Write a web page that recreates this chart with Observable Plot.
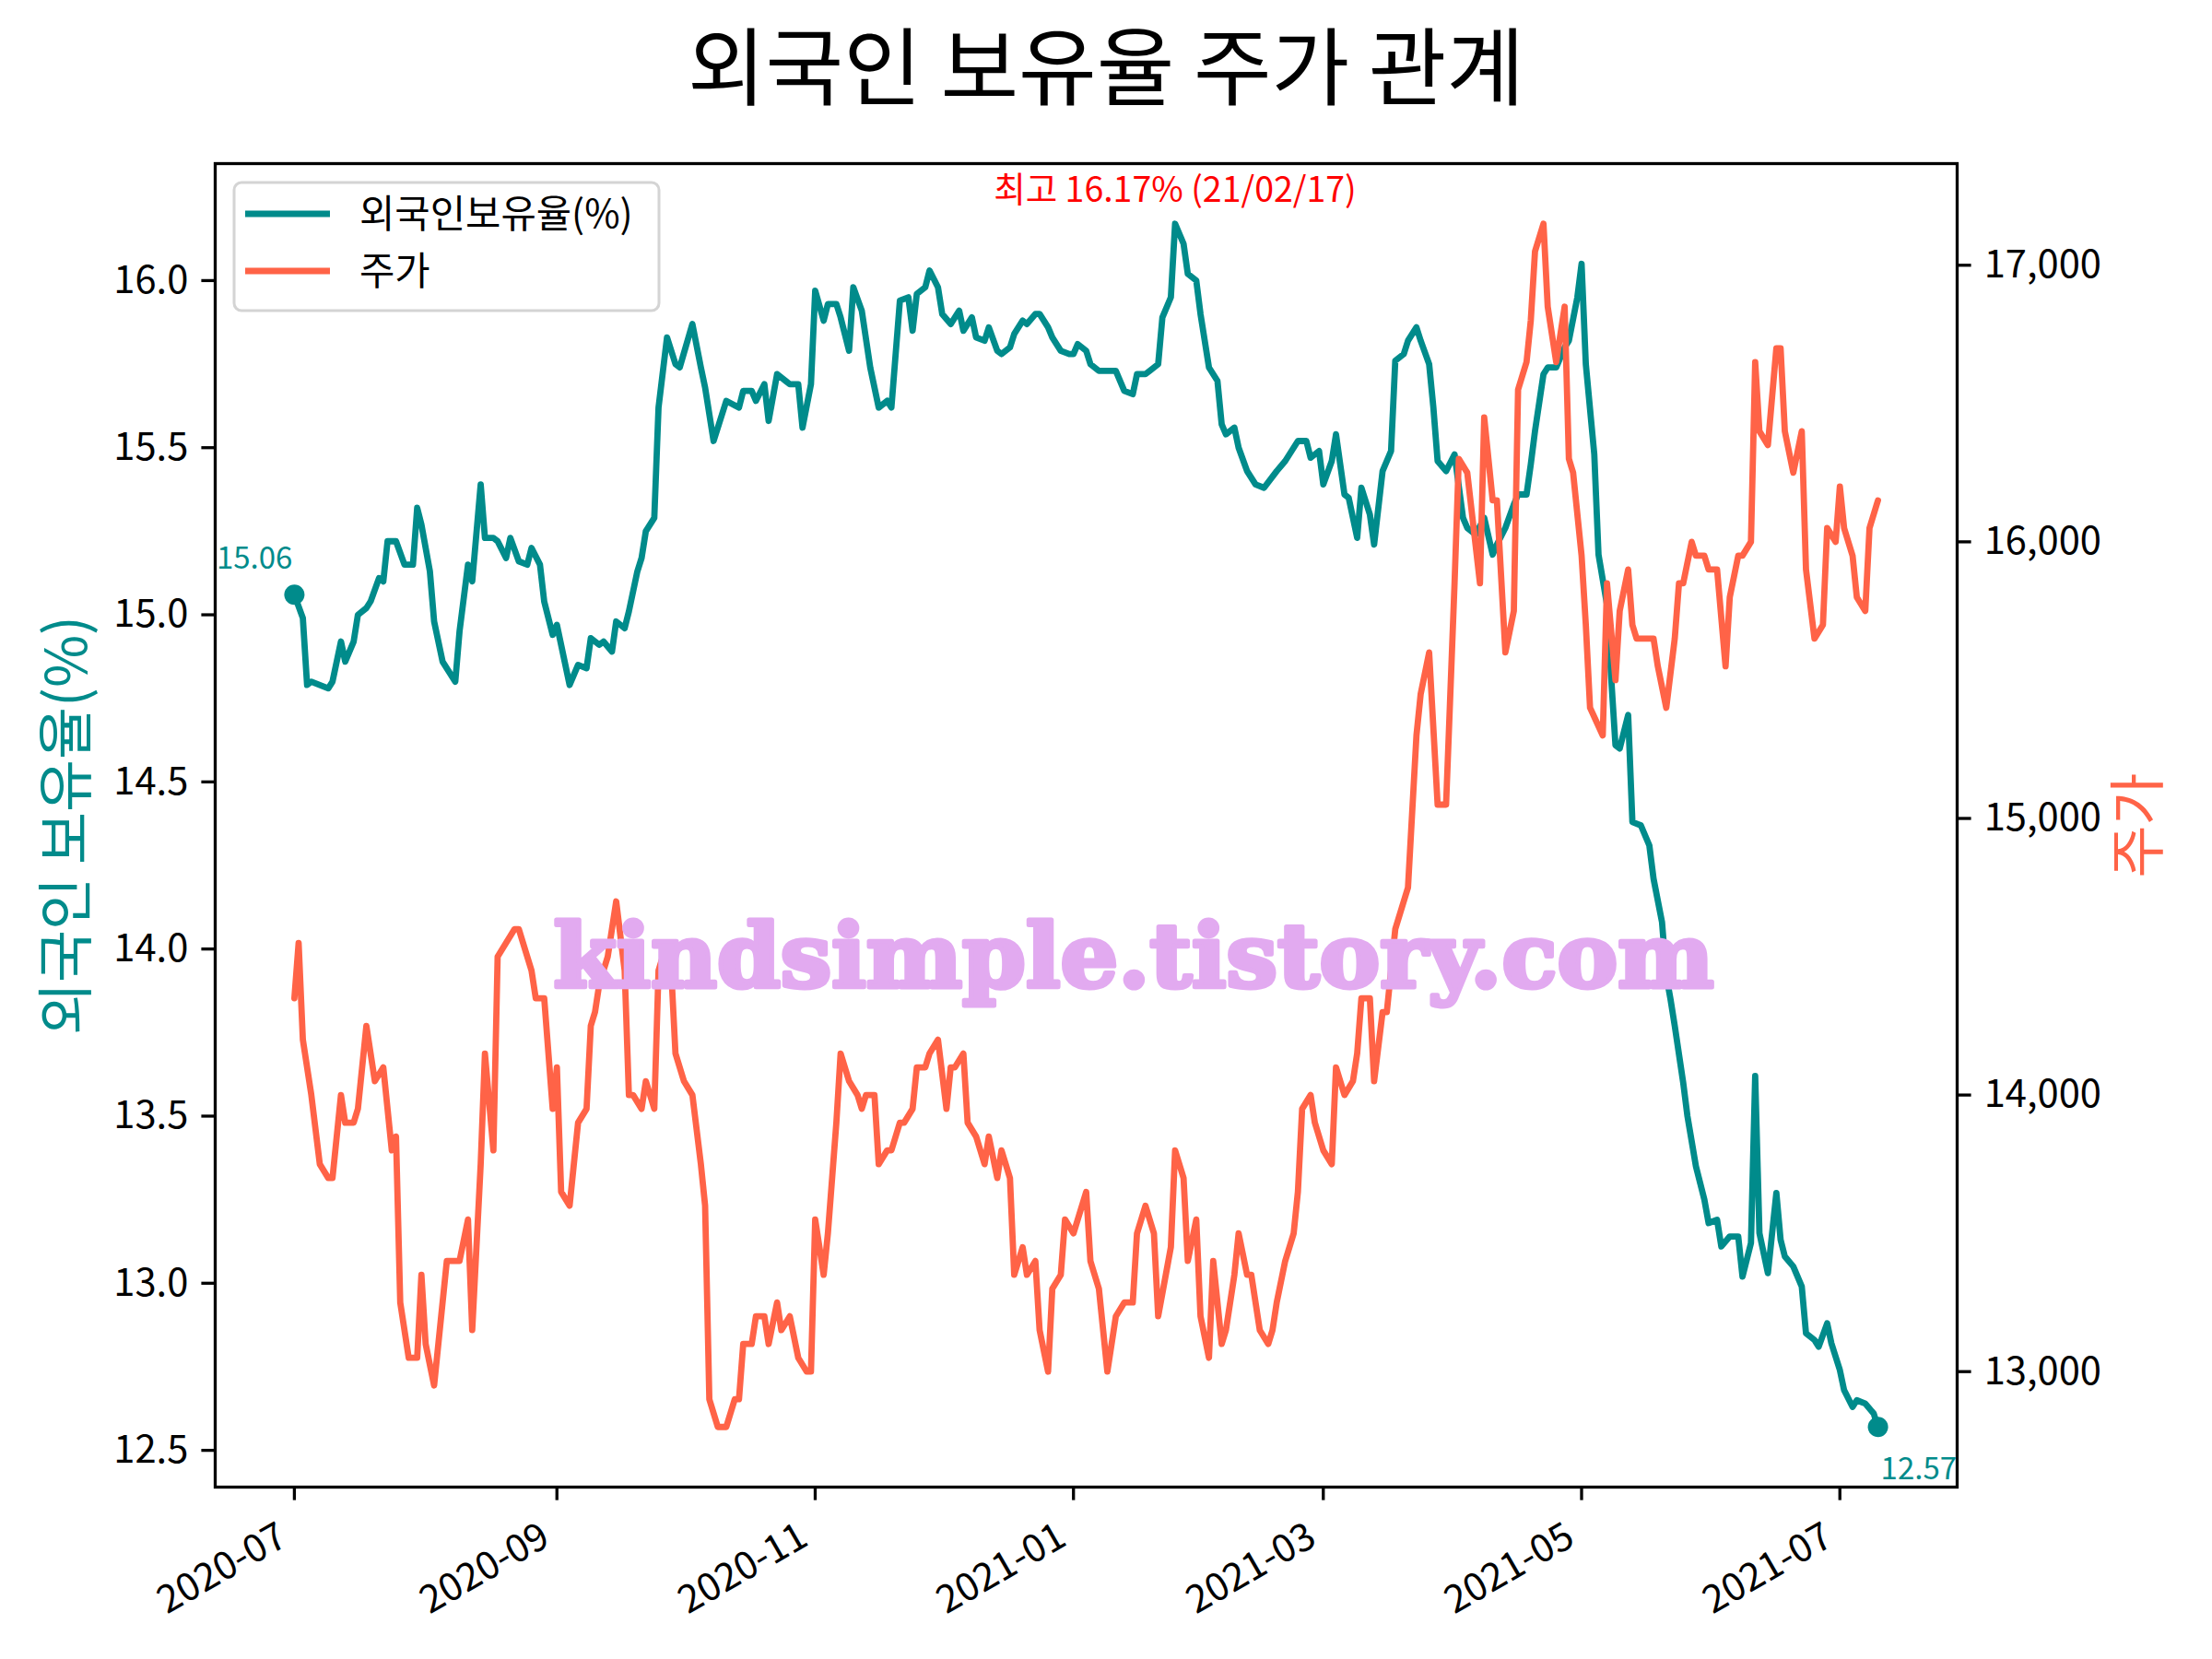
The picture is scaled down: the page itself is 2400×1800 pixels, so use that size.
<!DOCTYPE html>
<html>
<head>
<meta charset="utf-8">
<script src="https://cdn.jsdelivr.net/npm/d3@7"></script>
<script src="https://cdn.jsdelivr.net/npm/@observablehq/plot@0.6"></script>
<style>
  html, body { margin: 0; padding: 0; background: #fff; }
  #fig { position: relative; width: 2400px; height: 1800px; background: #fff; overflow: hidden; }
  #title { position: absolute; left: 0; top: 0; width: 2400px; height: 150px; line-height: normal;
           text-align: center; font-family: 'Noto Sans CJK KR', 'Noto Sans', sans-serif; font-size: 92px; color: #000; }
  #plots { position: absolute; left: 0; top: 150px; width: 2400px; height: 1650px; }
  #plots svg { position: absolute; left: 0; top: 0; }
  #overlay { position: absolute; left: 0; top: 0; }
</style>
</head>
<body>
<div id="fig">
  <div id="title">외국인 보유율 주가 관계</div>
  <div id="plots"></div>
  <svg id="overlay" width="2400" height="1800"></svg>
</div>
<script>
// ---------- data ----------
const ownDates = [
  "2020-07-01","2020-07-03","2020-07-04","2020-07-05","2020-07-09","2020-07-10","2020-07-12","2020-07-13","2020-07-15","2020-07-16","2020-07-18","2020-07-19","2020-07-21","2020-07-22","2020-07-23","2020-07-25","2020-07-27","2020-07-29","2020-07-30","2020-07-31",
  "2020-08-02","2020-08-03","2020-08-05","2020-08-06","2020-08-08","2020-08-09","2020-08-11","2020-08-12","2020-08-14","2020-08-15","2020-08-17","2020-08-18","2020-08-20","2020-08-21","2020-08-23","2020-08-25","2020-08-26","2020-08-28","2020-08-29","2020-08-31",
  "2020-09-01","2020-09-03","2020-09-04","2020-09-06","2020-09-08","2020-09-09","2020-09-11","2020-09-12","2020-09-14","2020-09-15","2020-09-17","2020-09-18","2020-09-20","2020-09-21","2020-09-22","2020-09-24","2020-09-25","2020-09-27","2020-09-29","2020-09-30",
  "2020-10-03","2020-10-05","2020-10-06","2020-10-08","2020-10-10","2020-10-11","2020-10-14","2020-10-15","2020-10-17","2020-10-18","2020-10-20","2020-10-21","2020-10-23","2020-10-25","2020-10-26","2020-10-28","2020-10-29","2020-10-31",
  "2020-11-01","2020-11-03","2020-11-04","2020-11-06","2020-11-07","2020-11-09","2020-11-10","2020-11-12","2020-11-14","2020-11-16","2020-11-18","2020-11-19","2020-11-21","2020-11-23","2020-11-24","2020-11-25","2020-11-27","2020-11-28","2020-11-30",
  "2020-12-01","2020-12-03","2020-12-05","2020-12-06","2020-12-08","2020-12-09","2020-12-11","2020-12-12","2020-12-14","2020-12-15","2020-12-17","2020-12-18","2020-12-20","2020-12-21","2020-12-23","2020-12-24","2020-12-26","2020-12-27","2020-12-29","2020-12-31",
  "2021-01-01","2021-01-02","2021-01-04","2021-01-05","2021-01-07","2021-01-11","2021-01-13","2021-01-15","2021-01-16","2021-01-18","2021-01-19","2021-01-21","2021-01-22","2021-01-24","2021-01-25","2021-01-27","2021-01-28","2021-01-30","2021-01-31",
  "2021-02-02","2021-02-04","2021-02-05","2021-02-06","2021-02-08","2021-02-09","2021-02-11","2021-02-13","2021-02-15","2021-02-18","2021-02-20","2021-02-22","2021-02-23","2021-02-25","2021-02-26","2021-02-28",
  "2021-03-01","2021-03-03","2021-03-04","2021-03-06","2021-03-07","2021-03-09","2021-03-10","2021-03-12","2021-03-13","2021-03-15","2021-03-17","2021-03-18","2021-03-20","2021-03-21","2021-03-23","2021-03-24","2021-03-26","2021-03-27","2021-03-28","2021-03-30",
  "2021-04-01","2021-04-03","2021-04-04","2021-04-06","2021-04-08","2021-04-10","2021-04-11","2021-04-13","2021-04-15","2021-04-16","2021-04-18","2021-04-19","2021-04-20","2021-04-22","2021-04-23","2021-04-25","2021-04-27","2021-04-28","2021-04-30",
  "2021-05-01","2021-05-02","2021-05-04","2021-05-05","2021-05-07","2021-05-08","2021-05-09","2021-05-10","2021-05-12","2021-05-13","2021-05-15","2021-05-17","2021-05-18","2021-05-20","2021-05-21","2021-05-22","2021-05-23","2021-05-25","2021-05-26","2021-05-28","2021-05-30","2021-05-31",
  "2021-06-02","2021-06-03","2021-06-05","2021-06-07","2021-06-08","2021-06-10","2021-06-11","2021-06-12","2021-06-14","2021-06-16","2021-06-17","2021-06-18","2021-06-20","2021-06-22","2021-06-23","2021-06-25","2021-06-26","2021-06-28","2021-06-29",
  "2021-07-01","2021-07-02","2021-07-04","2021-07-05","2021-07-07","2021-07-09","2021-07-10"
];
const ownValues = [
  15.06,14.99,14.79,14.80,14.78,14.80,14.92,14.86,14.92,15.00,15.02,15.04,15.11,15.10,15.22,15.22,15.15,15.15,15.32,15.27,
  15.13,14.98,14.86,14.84,14.80,14.95,15.15,15.10,15.39,15.23,15.23,15.22,15.17,15.23,15.16,15.15,15.20,15.15,15.04,14.94,
  14.97,14.85,14.79,14.85,14.84,14.93,14.91,14.92,14.89,14.98,14.96,15.01,15.13,15.17,15.25,15.29,15.62,15.83,15.75,15.74,
  15.87,15.74,15.68,15.52,15.60,15.64,15.62,15.67,15.67,15.64,15.69,15.58,15.72,15.70,15.69,15.69,15.56,15.69,
  15.97,15.88,15.93,15.93,15.89,15.79,15.98,15.91,15.74,15.62,15.64,15.62,15.94,15.95,15.85,15.96,15.98,16.03,15.98,
  15.90,15.87,15.91,15.85,15.89,15.83,15.82,15.86,15.79,15.78,15.80,15.84,15.88,15.87,15.90,15.90,15.86,15.83,15.79,15.78,
  15.78,15.81,15.79,15.75,15.73,15.73,15.67,15.66,15.72,15.72,15.73,15.75,15.89,15.95,16.17,16.11,16.02,16.00,15.90,
  15.74,15.70,15.57,15.54,15.56,15.50,15.43,15.39,15.38,15.43,15.46,15.50,15.52,15.52,15.47,15.49,
  15.39,15.46,15.54,15.36,15.35,15.23,15.38,15.30,15.21,15.43,15.49,15.76,15.78,15.82,15.86,15.82,15.75,15.62,15.46,15.43,
  15.48,15.29,15.26,15.24,15.29,15.18,15.21,15.26,15.33,15.36,15.36,15.45,15.55,15.72,15.74,15.74,15.80,15.82,15.95,
  16.05,15.75,15.48,15.18,15.03,14.81,14.61,14.60,14.70,14.38,14.37,14.31,14.21,14.08,13.92,13.85,13.77,13.60,13.50,13.35,13.25,13.18,
  13.19,13.11,13.14,13.14,13.02,13.12,13.62,13.15,13.03,13.27,13.13,13.08,13.05,12.99,12.85,12.83,12.81,12.88,12.82,
  12.74,12.68,12.63,12.65,12.64,12.61,12.57
];
const priceDates = [
  "2020-07-01","2020-07-02","2020-07-03","2020-07-05","2020-07-07","2020-07-09","2020-07-10","2020-07-12","2020-07-13","2020-07-15","2020-07-16","2020-07-18","2020-07-19","2020-07-20","2020-07-22","2020-07-24","2020-07-25","2020-07-26","2020-07-28","2020-07-30","2020-07-31",
  "2020-08-01","2020-08-03","2020-08-05","2020-08-06","2020-08-09","2020-08-11","2020-08-12","2020-08-14","2020-08-15","2020-08-17","2020-08-18","2020-08-20","2020-08-22","2020-08-23","2020-08-25","2020-08-26","2020-08-27","2020-08-29","2020-08-31",
  "2020-09-01","2020-09-02","2020-09-04","2020-09-06","2020-09-08","2020-09-09","2020-09-10","2020-09-11","2020-09-13","2020-09-15","2020-09-17","2020-09-18","2020-09-19","2020-09-21","2020-09-22","2020-09-24","2020-09-25","2020-09-26","2020-09-28","2020-09-29",
  "2020-10-01","2020-10-03","2020-10-05","2020-10-06","2020-10-07","2020-10-09","2020-10-11","2020-10-13","2020-10-14","2020-10-15","2020-10-17","2020-10-18","2020-10-20","2020-10-21","2020-10-23","2020-10-24","2020-10-26","2020-10-28","2020-10-30","2020-10-31",
  "2020-11-01","2020-11-03","2020-11-04","2020-11-06","2020-11-07","2020-11-09","2020-11-11","2020-11-12","2020-11-13","2020-11-15","2020-11-16","2020-11-18","2020-11-19","2020-11-21","2020-11-22","2020-11-24","2020-11-25","2020-11-27","2020-11-28","2020-11-30",
  "2020-12-02","2020-12-03","2020-12-04","2020-12-06","2020-12-07","2020-12-09","2020-12-11","2020-12-12","2020-12-14","2020-12-15","2020-12-17","2020-12-18","2020-12-20","2020-12-21","2020-12-23","2020-12-24","2020-12-26","2020-12-27","2020-12-29","2020-12-30",
  "2021-01-01","2021-01-02","2021-01-04","2021-01-05","2021-01-07","2021-01-09","2021-01-10","2021-01-11","2021-01-13","2021-01-15","2021-01-16","2021-01-18","2021-01-20","2021-01-21","2021-01-24","2021-01-25","2021-01-27","2021-01-28","2021-01-30","2021-01-31",
  "2021-02-02","2021-02-03","2021-02-05","2021-02-06","2021-02-08","2021-02-09","2021-02-11","2021-02-12","2021-02-14","2021-02-16","2021-02-17","2021-02-18","2021-02-20","2021-02-22","2021-02-23","2021-02-24","2021-02-26","2021-02-27",
  "2021-03-01","2021-03-03","2021-03-04","2021-03-06","2021-03-08","2021-03-09","2021-03-10","2021-03-12","2021-03-13","2021-03-15","2021-03-16","2021-03-18","2021-03-19","2021-03-21","2021-03-23","2021-03-24","2021-03-26","2021-03-28","2021-03-30",
  "2021-04-01","2021-04-02","2021-04-04","2021-04-07","2021-04-08","2021-04-10","2021-04-11","2021-04-13","2021-04-15","2021-04-16","2021-04-18","2021-04-19","2021-04-20","2021-04-22","2021-04-23","2021-04-25","2021-04-27","2021-04-28","2021-04-29",
  "2021-05-01","2021-05-02","2021-05-03","2021-05-06","2021-05-07","2021-05-09","2021-05-10","2021-05-12","2021-05-13","2021-05-14","2021-05-18","2021-05-19","2021-05-21","2021-05-23","2021-05-24","2021-05-25","2021-05-27","2021-05-28","2021-05-30","2021-05-31",
  "2021-06-02","2021-06-04","2021-06-05","2021-06-07","2021-06-08","2021-06-10","2021-06-11","2021-06-12","2021-06-14","2021-06-16","2021-06-17","2021-06-18","2021-06-20","2021-06-22","2021-06-23","2021-06-25","2021-06-27","2021-06-28","2021-06-30",
  "2021-07-01","2021-07-02","2021-07-04","2021-07-05","2021-07-07","2021-07-08","2021-07-10"
];
const priceValues = [
  14350,14550,14200,14000,13750,13700,13700,14000,13900,13900,13950,14250,14150,14050,14100,13800,13850,13250,13050,13050,13350,
  13100,12950,13250,13400,13400,13550,13150,13750,14150,13800,14500,14550,14600,14600,14500,14450,14350,14350,13950,
  14100,13650,13600,13900,13950,14250,14300,14400,14500,14700,14450,14000,14000,13950,14050,13950,14450,14500,14450,14150,
  14050,14000,13750,13600,12900,12800,12800,12900,12900,13100,13100,13200,13200,13100,13250,13150,13200,13050,13000,13000,
  13550,13350,13500,13900,14150,14050,14000,13950,14000,14000,13750,13800,13800,13900,13900,13950,14100,14100,14150,14200,
  13950,14100,14100,14150,13900,13850,13750,13850,13700,13800,13700,13350,13450,13350,13400,13150,13000,13300,13350,13550,
  13500,13550,13650,13400,13300,13000,13100,13200,13250,13250,13500,13600,13500,13200,13450,13800,13700,13400,13550,13200,
  13050,13400,13100,13150,13350,13500,13350,13350,13150,13100,13150,13250,13400,13500,13650,13950,14000,13900,
  13800,13750,14100,14000,14050,14150,14350,14350,14050,14300,14300,14600,14650,14750,15300,15450,15600,15050,15050,
  15850,16300,16250,15850,16450,16150,16150,15600,15750,16550,16650,16800,17050,17150,16850,16650,16850,16300,16250,
  15950,15700,15400,15300,15850,15500,15750,15900,15700,15650,15650,15550,15400,15650,15850,15850,16000,15950,15950,15900,
  15900,15550,15800,15950,15950,16000,16650,16400,16350,16700,16700,16400,16250,16400,15900,15650,15700,16050,16000,
  16200,16050,15950,15800,15750,16050,16150
];
const xTickDates = ["2020-07-01","2020-09-01","2020-11-01","2021-01-01","2021-03-01","2021-05-01","2021-07-01"];
const leftTicks = [12.5, 13.0, 13.5, 14.0, 14.5, 15.0, 15.5, 16.0];
const rightTicks = [13000, 14000, 15000, 16000, 17000];
const seriesNames = ["외국인보유율(%)", "주가"];
const axisLabels = ["외국인 보유율(%)", "주가"];
const peakLabelDate = "21/02/17";
const watermark = "kindsimple.tistory.com";

// ---------- build ----------
const teal = "#008b8b", tomato = "#ff6347";
const FONT = "'Noto Sans CJK KR', 'Noto Sans', sans-serif";
const own = ownDates.map((d, i) => ({date: new Date(d), value: ownValues[i]}));
const price = priceDates.map((d, i) => ({date: new Date(d), value: priceValues[i]}));

const allDates = own.concat(price).map(d => +d.date);
const t0 = d3.min(allDates), t1 = d3.max(allDates);
const tp = (t1 - t0) * 0.05;
const xDomain = [new Date(t0 - tp), new Date(t1 + tp)];
const [oMin, oMax] = d3.extent(ownValues), op = (oMax - oMin) * 0.05;
const [pMin, pMax] = d3.extent(priceValues), pp = (pMax - pMin) * 0.05;
const xTicks = xTickDates.map(d => new Date(d));

const first = own[0], last = own[own.length - 1];
const peak = own[d3.maxIndex(own, d => d.value)];

const LW = 6.8;
const common = {
  width: 2400, height: 1650,
  marginTop: 27, marginRight: 277, marginBottom: 187, marginLeft: 233,
  style: {fontFamily: FONT, fontSize: "41.7px", background: "transparent", color: "#000", overflow: "visible"}
};

const plotLeft = Plot.plot({
  ...common,
  x: {type: "utc", domain: xDomain},
  y: {domain: [oMin - op, oMax + op]},
  marks: [
    Plot.axisX({ticks: xTicks, tickSize: 14.6, strokeWidth: 3.3, tickFormat: () => "", label: null}),
    Plot.axisX({ticks: xTicks, tickSize: 0, tickPadding: 50, tickRotate: -30,
                tickFormat: d3.utcFormat("%Y-%m"), fontSize: 41.7, label: null, dx: -12}),
    Plot.axisY({ticks: leftTicks, tickFormat: d3.format(".1f"), tickSize: 14.6, tickPadding: 14.6,
                strokeWidth: 3.3, fontSize: 41.7, label: null}),
    Plot.lineY(own, {x: "date", y: "value", stroke: teal, strokeWidth: LW}),
    Plot.dot([first, last], {x: "date", y: "value", fill: teal, r: 11}),
    Plot.text([first], {x: "date", y: "value", text: d => d.value.toFixed(2), fill: teal,
                        fontSize: 33, textAnchor: "end", dx: -2, dy: -39}),
    Plot.text([last], {x: "date", y: "value", text: d => d.value.toFixed(2), fill: teal,
                       fontSize: 33, textAnchor: "start", dx: 3, dy: 46}),
    Plot.text([peak], {x: "date", y: "value", text: d => `최고 ${d.value.toFixed(2)}% (${peakLabelDate})`,
                       fill: "red", fontSize: 37.5, dy: -36}),
    Plot.text([axisLabels[0]], {frameAnchor: "left", text: d => d, rotate: -90, dx: -159,
                                textAnchor: "middle", lineAnchor: "middle", fill: teal, fontSize: 62}),
    Plot.frame({stroke: "#000", strokeWidth: 3.3})
  ]
});

const plotRight = Plot.plot({
  ...common,
  x: {type: "utc", domain: xDomain, axis: null},
  y: {domain: [pMin - pp, pMax + pp]},
  marks: [
    Plot.axisY({anchor: "right", ticks: rightTicks, tickFormat: d3.format(","), tickSize: 14.6,
                tickPadding: 14.6, strokeWidth: 3.3, fontSize: 41.7, label: null}),
    Plot.lineY(price, {x: "date", y: "value", stroke: tomato, strokeWidth: LW}),
    Plot.text([axisLabels[1]], {frameAnchor: "right", text: d => d, rotate: -90, dx: 199,
                                textAnchor: "middle", lineAnchor: "middle", fill: tomato, fontSize: 62})
  ]
});

const host = document.getElementById("plots");
host.appendChild(plotLeft);
host.appendChild(plotRight);

// legend + watermark overlay
const ov = d3.select("#overlay");
ov.append("text")
  .attr("x", 1230).attr("y", 1071)
  .attr("text-anchor", "middle")
  .attr("font-family", "'DejaVu Serif', serif")
  .attr("font-weight", "bold")
  .attr("font-size", 95)
  .attr("textLength", 1259)
  .attr("lengthAdjust", "spacingAndGlyphs")
  .attr("fill", "#e2aaf0")
  .attr("stroke", "#e2aaf0")
  .attr("stroke-width", 5)
  .attr("stroke-linejoin", "round")
  .text(watermark);

const lg = ov.append("g");
lg.append("rect").attr("x", 254).attr("y", 198).attr("width", 461).attr("height", 139)
  .attr("rx", 8).attr("fill", "#fff").attr("fill-opacity", 0.8)
  .attr("stroke", "#d4d4d4").attr("stroke-width", 3);
const colors = [teal, tomato];
seriesNames.forEach((name, i) => {
  const cy = 232 + i * 62;
  lg.append("line").attr("x1", 266).attr("x2", 358).attr("y1", cy).attr("y2", cy)
    .attr("stroke", colors[i]).attr("stroke-width", LW);
  lg.append("text").attr("x", 390).attr("y", cy).attr("dy", "0.35em")
    .attr("font-family", FONT).attr("font-size", 41.7).attr("fill", "#000").text(name);
});
</script>
</body>
</html>
